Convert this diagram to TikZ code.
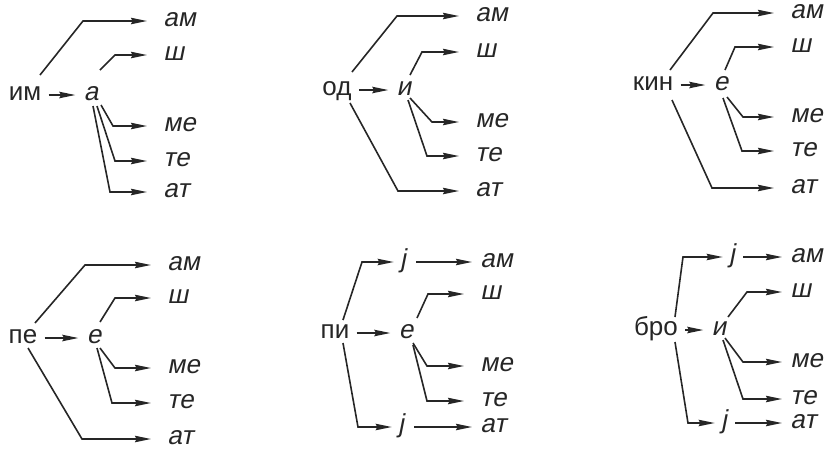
\documentclass[tikz,border=0pt]{standalone}
\usepackage{fontspec}
\setmainfont{Liberation Sans}
\newfontfamily\slantfont[FakeSlant=0.2]{Liberation Sans}
\usetikzlibrary{arrows.meta, calc}

\begin{document}
\begin{tikzpicture}[x=0.5pt, y=-0.5pt, >={Stealth[length=8pt, width=3.2pt, inset=0.8pt]},
  font=\fontsize{13}{15}\selectfont,
  every node/.style={text=black!85, inner sep=1pt, text height=1.2ex, text depth=0.2ex},
  mid/.style={font=\fontsize{13}{15}\selectfont\slantfont},
  suf/.style={anchor=west, font=\fontsize{13}{15}\selectfont\slantfont},
  link/.style={->, line width=0.8pt, draw=black!85, shorten >=7pt},
  hop/.style={->, line width=0.8pt, draw=black!85, shorten >=3pt, shorten <=2.5pt}]
  \useasboundingbox (0,0) rectangle (832,452);

  \node (im) at (25,95) {им};
  \node[mid] (a1) at (91,95) {а};
  \node[suf] (am1) at (161,21) {ам};
  \node[suf] (sh1) at (161,55) {ш};
  \node[suf] (me1) at (161,126) {ме};
  \node[suf] (te1) at (161,161) {те};
  \node[suf] (at1) at (161,192) {ат};
  \draw[hop] (im) -- (a1);
  \draw[link] ($(im)+(15,-20)$) -- (83,21) -- (am1);
  \draw[link] ($(a1)+(9,-25)$) -- (115,55) -- (sh1);
  \draw[link] ($(a1)+(10,10)$) -- (113,126) -- (me1);
  \draw[link] ($(a1)+(6,11)$) -- (115,161) -- (te1);
  \draw[link] ($(a1)+(2,11)$) -- (110,192) -- (at1);

  \node (od) at (337,90) {од};
  \node[mid] (i2) at (404,90) {и};
  \node[suf] (am2) at (473,16) {ам};
  \node[suf] (sh2) at (473,52) {ш};
  \node[suf] (me2) at (473,122) {ме};
  \node[suf] (te2) at (473,156) {те};
  \node[suf] (at2) at (473,191) {ат};
  \draw[hop] (od) -- (i2);
  \draw[link] ($(od)+(15,-18)$) -- (397,16) -- (am2);
  \draw[link] ($(od)+(13,13)$) -- (398,191) -- (at2);
  \draw[link] ($(i2)+(6,-15)$) -- (422,52) -- (sh2);
  \draw[link] ($(i2)+(6,8)$) -- (432,122) -- (me2);
  \draw[link] ($(i2)+(4,10)$) -- (427,156) -- (te2);

  \node (kin) at (653,85) {кин};
  \node[mid] (e3) at (721,85) {е};
  \node[suf] (am3) at (788,13) {ам};
  \node[suf] (sh3) at (788,47) {ш};
  \node[suf] (me3) at (788,117) {ме};
  \node[suf] (te3) at (788,151) {те};
  \node[suf] (at3) at (788,188) {ат};
  \draw[hop] (kin) -- (e3);
  \draw[link] ($(kin)+(17,-15)$) -- (713,13) -- (am3);
  \draw[link] ($(kin)+(19,15)$) -- (712,188) -- (at3);
  \draw[link] ($(e3)+(4,-15)$) -- (735,47) -- (sh3);
  \draw[link] ($(e3)+(6,12)$) -- (743,117) -- (me3);
  \draw[link] ($(e3)+(2,13)$) -- (742,151) -- (te3);

  \node (pe) at (23,338) {пе};
  \node[mid] (e4) at (94,338) {е};
  \node[suf] (am4) at (165,265) {ам};
  \node[suf] (sh4) at (165,298) {ш};
  \node[suf] (me4) at (165,368) {ме};
  \node[suf] (te4) at (165,403) {те};
  \node[suf] (at4) at (165,439) {ат};
  \draw[hop] (pe) -- (e4);
  \draw[link] ($(pe)+(12,-15)$) -- (85,265) -- (am4);
  \draw[link] ($(pe)+(5,10)$) -- (82,439) -- (at4);
  \draw[link] ($(e4)+(6,-16)$) -- (115,298) -- (sh4);
  \draw[link] ($(e4)+(6,10)$) -- (115,368) -- (me4);
  \draw[link] ($(e4)+(3,10)$) -- (112,403) -- (te4);

  \node (pi) at (335,333) {пи};
  \node[mid] (e5) at (406,333) {е};
  \node[mid] (jt5) at (403,262) {ј};
  \node[mid] (jb5) at (401,427) {ј};
  \node[suf] (am5) at (478,262) {ам};
  \node[suf] (sh5) at (478,294) {ш};
  \node[suf] (me5) at (478,366) {ме};
  \node[suf] (te5) at (478,401) {те};
  \node[suf] (at5) at (478,427) {ат};
  \draw[hop] (pi) -- (e5);
  \draw[hop, shorten <=4pt] (jt5) -- (am5);
  \draw[hop, shorten <=4pt] (jb5) -- (at5);
  \draw[link, shorten >=2pt] ($(pi)+(8,-13)$) -- (362,262) -- (jt5);
  \draw[link, shorten >=2pt] ($(pi)+(8,10)$) -- (358,427) -- (jb5);
  \draw[link] ($(e5)+(11,-15)$) -- (428,294) -- (sh5);
  \draw[link] ($(e5)+(7,10)$) -- (427,366) -- (me5);
  \draw[link] ($(e5)+(7,12)$) -- (427,401) -- (te5);

  \node (bro) at (656,330) {бро};
  \node[mid] (i6) at (719,330) {и};
  \node[mid] (jt6) at (732,257) {ј};
  \node[mid] (jb6) at (724,423) {ј};
  \node[suf] (am6) at (788,257) {ам};
  \node[suf] (sh6) at (788,292) {ш};
  \node[suf] (me6) at (788,362) {ме};
  \node[suf] (te6) at (788,399) {те};
  \node[suf] (at6) at (788,423) {ат};
  \draw[hop] (bro) -- (i6);
  \draw[hop, shorten <=3pt] (jt6) -- (am6);
  \draw[hop, shorten <=3pt] (jb6) -- (at6);
  \draw[link, shorten >=2pt] ($(bro)+(19,-13)$) -- (683,257) -- (jt6);
  \draw[link, shorten >=2pt] ($(bro)+(19,12)$) -- (688,423) -- (jb6);
  \draw[link, shorten >=3pt] ($(i6)+(9,-13)$) -- (747,292) -- (sh6);
  \draw[link, shorten >=3pt] ($(i6)+(6,8)$) -- (743,362) -- (me6);
  \draw[link, shorten >=3pt] ($(i6)+(4,10)$) -- (743,399) -- (te6);
\end{tikzpicture}
\end{document}
